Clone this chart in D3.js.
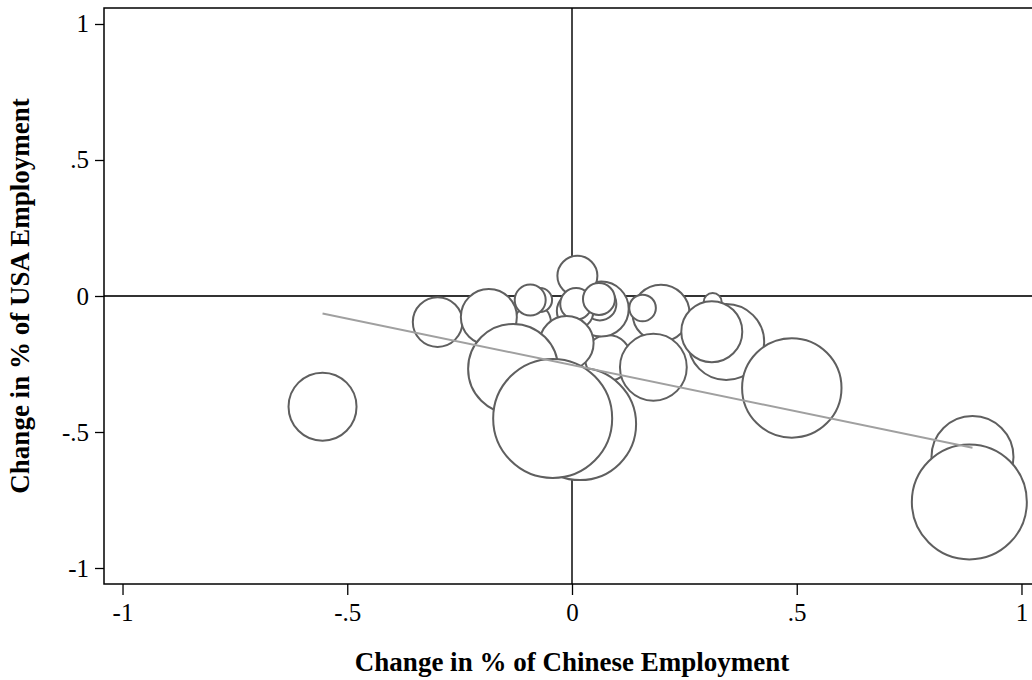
<!DOCTYPE html>
<html><head><meta charset="utf-8">
<script src="https://cdn.jsdelivr.net/npm/d3@7"></script>
<style>body{margin:0;background:#fff} svg{display:block}</style>
</head><body>
<svg id="chart" width="1032" height="680"></svg>
<script>
// Change in employment share by sector, China vs USA, bubble size = employment weight
const chinaChange = [0.080, -0.087, -0.071, 0.313, 0.343, 0.198, 0.891, 0.018, 0.065, 0.062, 0.007, 0.012, 0.009, 0.060, -0.093, -0.012, -0.299, -0.185, -0.131, -0.043, 0.157, 0.181, 0.311, 0.489, -0.555, 0.884];
const usaChange   = [-0.228, -0.096, -0.015, -0.022, -0.169, -0.063, -0.592, -0.471, -0.048, -0.029, -0.055, 0.074, -0.029, -0.011, -0.015, -0.173, -0.096, -0.077, -0.268, -0.450, -0.044, -0.262, -0.131, -0.338, -0.407, -0.757];
const employmentWeight = [5.29, 3.24, 1.44, 0.81, 14.44, 8.12, 16.81, 31.36, 7.56, 2.72, 3.35, 4.0, 2.50, 2.56, 2.40, 7.29, 6.15, 7.84, 20.25, 35.4, 1.77, 11.16, 9.30, 24.7, 11.56, 33.06];

// Weighted linear fit, drawn across the range of the data
const fitX = [-0.555, 0.891];
const fitY = [-0.064, -0.558];

const xTicks = [-1, -0.5, 0, 0.5, 1];
const xTickLabels = ["-1", "-.5", "0", ".5", "1"];
const yTicks = [-1, -0.5, 0, 0.5, 1];
const yTickLabels = ["-1", "-.5", "0", ".5", "1"];

const xTitle = "Change in % of Chinese Employment";
const yTitle = "Change in % of USA Employment";

const svg = d3.select("#chart");
const plotL = 104, plotR = 1040, plotT = 8, plotB = 584;

const x = d3.scaleLinear().domain([-1.0412, 1.0412]).range([plotL, plotR]);
const y = d3.scaleLinear().domain([-1.0588, 1.0588]).range([plotB, plotT]);
const r = d3.scaleSqrt().domain([0, 36]).range([0, 60]);

const font = "'Liberation Serif', 'Times New Roman', serif";

// reference lines at zero
svg.append("line").attr("x1", plotL).attr("x2", plotR).attr("y1", y(0)).attr("y2", y(0))
  .attr("stroke", "#333").attr("stroke-width", 1.8);
svg.append("line").attr("x1", x(0)).attr("x2", x(0)).attr("y1", plotT).attr("y2", plotB)
  .attr("stroke", "#333").attr("stroke-width", 1.8);

// bubbles
const pts = chinaChange.map((d, i) => ({cx: d, cy: usaChange[i], w: employmentWeight[i]}));
svg.append("g").selectAll("circle").data(pts).join("circle")
  .attr("cx", d => x(d.cx)).attr("cy", d => y(d.cy)).attr("r", d => r(d.w))
  .attr("fill", "#fff").attr("stroke", "#5f5f5f").attr("stroke-width", 2);

// fitted line
svg.append("line")
  .attr("x1", x(fitX[0])).attr("y1", y(fitY[0]))
  .attr("x2", x(fitX[1])).attr("y2", y(fitY[1]))
  .attr("stroke", "#a0a0a0").attr("stroke-width", 2);

// plot frame
svg.append("rect").attr("x", plotL).attr("y", plotT).attr("width", plotR - plotL).attr("height", plotB - plotT)
  .attr("fill", "none").attr("stroke", "#000").attr("stroke-width", 1.5);

// axes
const xAxis = d3.axisBottom(x).tickValues(xTicks).tickSize(11).tickPadding(8)
  .tickFormat((d, i) => xTickLabels[i]);
const gx = svg.append("g").attr("transform", `translate(0,${plotB})`).call(xAxis);
gx.select(".domain").remove();
gx.selectAll("line").attr("stroke", "#000").attr("stroke-width", 1.3);
gx.selectAll("text").attr("font-family", font).attr("font-size", 25).attr("fill", "#000");

const yAxis = d3.axisLeft(y).tickValues(yTicks).tickSize(9).tickPadding(6)
  .tickFormat((d, i) => yTickLabels[i]);
const gy = svg.append("g").attr("transform", `translate(${plotL},0)`).call(yAxis);
gy.select(".domain").remove();
gy.selectAll("line").attr("stroke", "#000").attr("stroke-width", 1.3);
gy.selectAll("text").attr("font-family", font).attr("font-size", 25).attr("fill", "#000");

// titles
svg.append("text").attr("x", (plotL + plotR) / 2).attr("y", 671)
  .attr("text-anchor", "middle").attr("font-family", font).attr("font-weight", "bold")
  .attr("font-size", 27).text(xTitle);
svg.append("text").attr("transform", `translate(29,${y(0)}) rotate(-90)`)
  .attr("text-anchor", "middle").attr("font-family", font).attr("font-weight", "bold")
  .attr("font-size", 27).text(yTitle);
</script>
</body></html>
